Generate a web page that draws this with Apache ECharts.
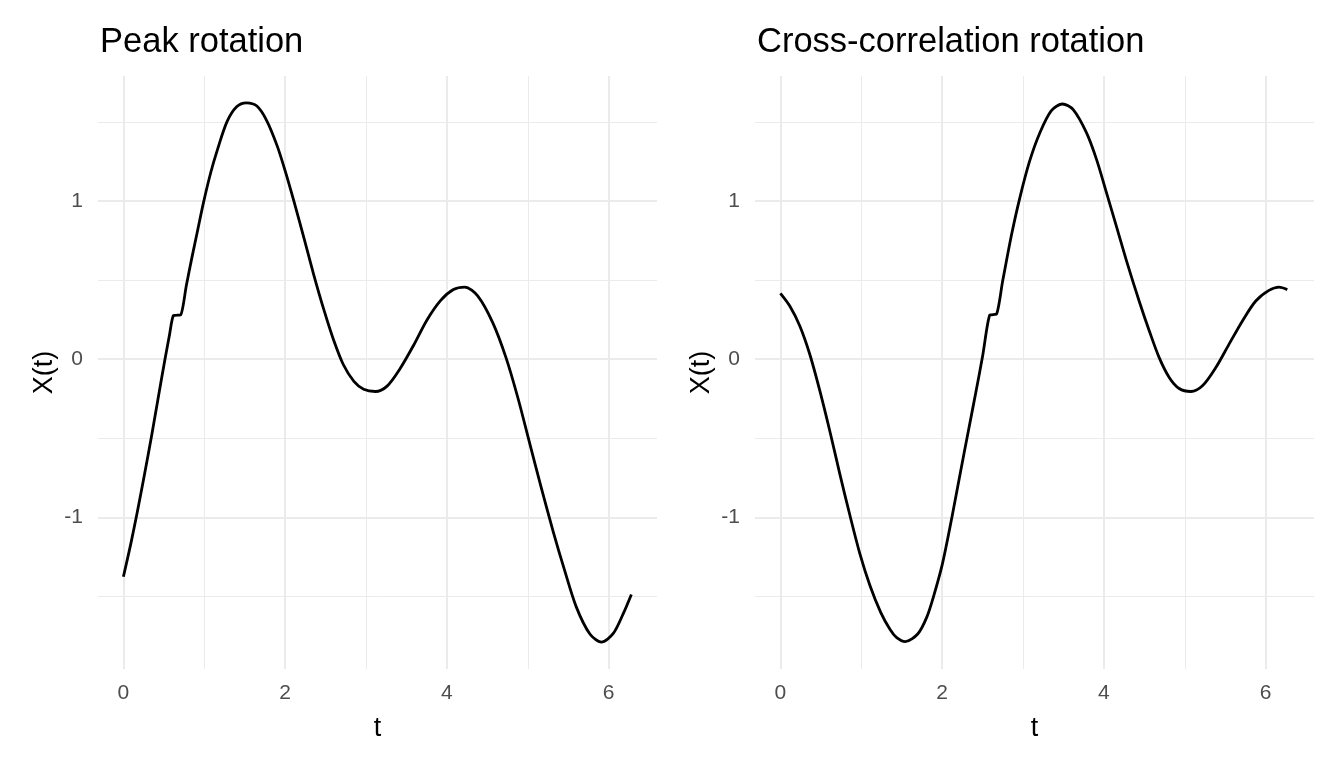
<!DOCTYPE html>
<html>
<head>
<meta charset="utf-8">
<script src="https://cdn.jsdelivr.net/npm/echarts@6/dist/echarts.min.js"></script>
<style>
html,body{margin:0;padding:0;background:#fff;}
#chart{width:1344px;height:768px;}
</style>
</head>
<body>
<div id="chart"></div>
<script>
// ---- data ----
const peakT = [0.00,0.09,0.17,0.26,0.35,0.43,0.514,0.565,0.617,0.64,0.685,0.708,0.78,0.85,0.92,0.99,1.08,1.16,1.28,1.40,1.52,1.65,1.77,1.90,2.00,2.107,2.23,2.35,2.48,2.60,2.72,2.85,2.97,3.115,3.26,3.42,3.59,3.75,3.92,4.08,4.22,4.38,4.566,4.73,4.876,5.02,5.165,5.31,5.455,5.60,5.765,5.91,6.054,6.18,6.28];
const peakX = [-1.375,-1.17,-0.97,-0.73,-0.48,-0.245,0.0,0.14,0.275,0.277,0.279,0.28,0.47,0.65,0.82,0.99,1.18,1.32,1.50,1.595,1.62,1.60,1.51,1.35,1.19,1.0,0.77,0.54,0.31,0.12,-0.035,-0.14,-0.19,-0.204,-0.17,-0.06,0.09,0.245,0.37,0.44,0.456,0.40,0.231,0.01,-0.242,-0.526,-0.81,-1.083,-1.335,-1.567,-1.735,-1.788,-1.735,-1.608,-1.487];

const xcorrT = [0.00,0.116,0.24,0.364,0.488,0.61,0.735,0.86,0.983,1.107,1.24,1.358,1.438,1.543,1.70,1.81,1.893,2.00,2.12,2.22,2.325,2.42,2.50,2.587,2.61,2.65,2.67,2.75,2.855,2.96,3.08,3.207,3.35,3.487,3.62,3.785,3.91,4.033,4.157,4.28,4.437,4.56,4.683,4.807,4.93,5.074,5.218,5.383,5.547,5.712,5.877,6.04,6.165,6.267];
const xcorrX = [0.416,0.336,0.21,0.03,-0.20,-0.452,-0.726,-0.988,-1.23,-1.43,-1.60,-1.71,-1.76,-1.785,-1.735,-1.63,-1.50,-1.30,-1.0,-0.73,-0.45,-0.20,0.02,0.278,0.280,0.283,0.284,0.50,0.78,1.02,1.25,1.43,1.571,1.613,1.577,1.43,1.26,1.05,0.835,0.62,0.365,0.18,0.01,-0.115,-0.185,-0.204,-0.168,-0.053,0.095,0.242,0.368,0.435,0.456,0.44];

const panelTitles = ['Peak rotation', 'Cross-correlation rotation'];
const xMajor = [0, 2, 4, 6];
const xMinor = [1, 3, 5];
const yMajor = [-1, 0, 1];
const yMinor = [-1.5, -0.5, 0.5, 1.5];
const xRange = [-0.314, 6.597];
const yRange = [-1.958, 1.79];

const FONT = '"Liberation Sans", Arial, Helvetica, sans-serif';
const GRID_COLOR = '#ebebeb';

function pairs(t, v) { return t.map((x, i) => [x, v[i]]); }

function isNear(v, arr) { return arr.some(a => Math.abs(a - v) < 1e-6); }

const grids = [
  {left: 98, right: 687, top: 76, bottom: 99},
  {left: 755, right: 30, top: 76, bottom: 99}
];

const xAxes = grids.map((g, i) => ({
  type: 'value', gridIndex: i, min: xRange[0], max: xRange[1], splitNumber: 7,
  axisLine: {show: false}, axisTick: {show: false}, splitLine: {show: false},
  axisLabel: {
    color: '#4d4d4d', fontSize: 21, fontFamily: FONT, margin: 14,
    formatter: v => isNear(v, xMajor) ? String(Math.round(v)) : ''
  },
  name: 't', nameLocation: 'middle', nameGap: 46,
  nameTextStyle: {color: '#000', fontSize: 27, fontFamily: FONT}
}));

const yAxes = grids.map((g, i) => ({
  type: 'value', gridIndex: i, min: yRange[0], max: yRange[1], splitNumber: 7,
  axisLine: {show: false}, axisTick: {show: false}, splitLine: {show: false},
  axisLabel: {
    color: '#4d4d4d', fontSize: 21, fontFamily: FONT, margin: 15,
    formatter: v => isNear(v, yMajor) ? String(Math.round(v)) : ''
  },
  name: 'X(t)', nameLocation: 'middle', nameGap: 40, nameRotate: 90,
  nameTextStyle: {color: '#000', fontSize: 27, fontFamily: FONT}
}));

function gridLines(i) {
  const d = [];
  xMinor.forEach(v => d.push({xAxis: v, lineStyle: {color: GRID_COLOR, width: 1, type: 'solid'}}));
  yMinor.forEach(v => d.push({yAxis: v, lineStyle: {color: GRID_COLOR, width: 1, type: 'solid'}}));
  xMajor.forEach(v => d.push({xAxis: v, lineStyle: {color: GRID_COLOR, width: 2, type: 'solid'}}));
  yMajor.forEach(v => d.push({yAxis: v, lineStyle: {color: GRID_COLOR, width: 2, type: 'solid'}}));
  return {
    type: 'line', xAxisIndex: i, yAxisIndex: i, data: [], z: 1, silent: true,
    markLine: {silent: true, symbol: 'none', animation: false, z: 1,
      label: {show: false}, emphasis: {disabled: true}, data: d}
  };
}

function curve(i, t, v) {
  return {
    type: 'line', xAxisIndex: i, yAxisIndex: i, data: pairs(t, v), z: 10,
    showSymbol: false, symbol: 'none', smooth: 0.3,
    lineStyle: {color: '#000', width: 2.8, join: 'round', cap: 'butt'}, animation: false, silent: true
  };
}

const option = {
  backgroundColor: '#fff',
  animation: false,
  title: panelTitles.map((txt, i) => ({
    text: txt, left: grids[i].left - 3, top: 20,
    textStyle: {color: '#000', fontSize: 34.5, fontWeight: 'normal', fontFamily: FONT}
  })),
  grid: grids,
  xAxis: xAxes,
  yAxis: yAxes,
  series: [gridLines(0), gridLines(1), curve(0, peakT, peakX), curve(1, xcorrT, xcorrX)]
};

const chart = echarts.init(document.getElementById('chart'), null, {renderer: 'canvas'});
chart.setOption(option);
</script>
</body>
</html>
